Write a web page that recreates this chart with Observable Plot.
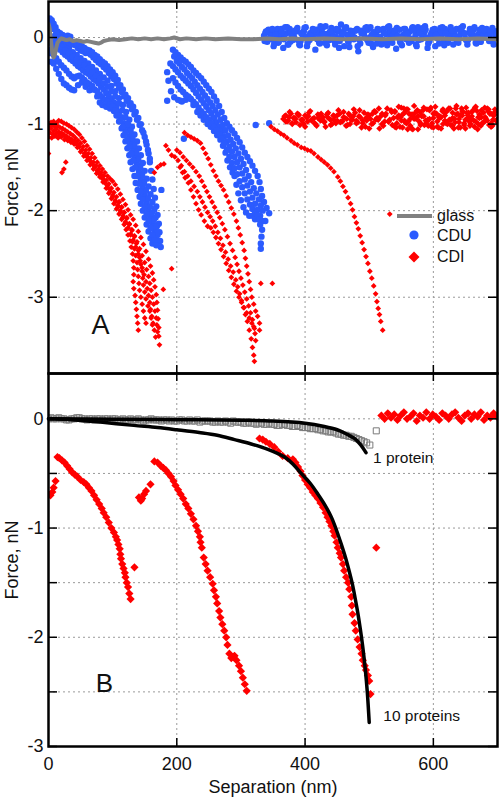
<!DOCTYPE html>
<html><head><meta charset="utf-8">
<script src="https://cdn.jsdelivr.net/npm/d3@7"></script>
<script src="https://cdn.jsdelivr.net/npm/@observablehq/plot@0.6"></script>
<style>
body{margin:0;background:#fff;}
#wrap{position:relative;width:500px;height:798px;font-family:"Liberation Sans",Arial,sans-serif;}
#top,#bot,#legend{position:absolute;left:0;}
#top{top:0;} #bot{top:372px;} #legend{top:0;pointer-events:none;}
</style></head><body>
<div id="wrap"><div id="top"></div><div id="bot"></div>
<svg id="legend" width="500" height="300" font-family="Liberation Sans, Arial, sans-serif" font-size="16">
<line x1="397" x2="432" y1="216" y2="216" stroke="#808080" stroke-width="4"/>
<circle cx="414" cy="235" r="4.6" fill="#2b5bff"/>
<path d="M414,251.5L419.5,257L414,262.5L408.5,257Z" fill="#ff0000"/>
<text x="437" y="221" fill="#111">glass</text>
<text x="437" y="241" fill="#111">CDU</text>
<text x="437" y="262" fill="#111">CDI</text>
</svg></div>
<script>
// ---------- ticks ----------
const xTicks = [0, 200, 400, 600];
const xGrid = [200, 400, 600];
const topYTicks = [0, -1, -2, -3];
const botYLabels = [0, -1, -2, -3];
const botYGrid = [0, -0.5, -1, -1.5, -2, -2.5];
const botYTicks = [0, -0.5, -1, -1.5, -2, -2.5, -3];

// ---------- panel A : glass ----------
const glass = [[0,0.16],[2,0.1],[4,-0.05],[6,-0.18],[8,-0.23],[10,-0.2],[12,-0.12],[14,-0.06],[17,-0.03],[20,-0.01],[24,-0.02],[28,-0.03],[33,-0.02],[38,-0.04],[44,-0.03],[50,-0.04],[55,-0.05],[60,-0.04],[66,-0.05],[72,-0.06],[78,-0.07],[82,-0.06],[86,-0.04],[92,-0.03],[100,-0.02],[110,-0.03],[120,-0.02],[130,-0.01],[140,-0.02],[150,-0.01],[160,-0.02],[170,-0.01],[180,-0.02],[190,-0.01],[196,0.0],[205,-0.02],[215,-0.01],[230,-0.02],[245,-0.01],[260,-0.02],[280,-0.01],[300,-0.02],[320,-0.02],[340,-0.01],[360,-0.02],[380,-0.01],[400,-0.02],[430,-0.01],[460,-0.02],[490,-0.01],[520,-0.02],[550,-0.01],[580,-0.02],[610,-0.01],[640,-0.02],[670,-0.01],[700,-0.02]];

// ---------- panel A : CDU (blue) ----------
const cdu1a = [[2,0.22],[5,0.2],[8,0.16],[11,0.12],[14,0.07],[18,0.05],[22,0.03],[26,0.01],[30,0.02],[34,0.01],[38,-0.05],[42,-0.09],[46,-0.12],[50,-0.15],[54,-0.16],[58,-0.18],[62,-0.18],[66,-0.2],[70,-0.23],[74,-0.26],[78,-0.29],[82,-0.31],[86,-0.34],[90,-0.37],[94,-0.41],[98,-0.45],[102,-0.48],[106,-0.53],[110,-0.58],[114,-0.63],[118,-0.68],[122,-0.73],[126,-0.78],[130,-0.83],[134,-0.89],[138,-0.95],[142,-1.01],[146,-1.07],[150,-1.15],[153,-1.24],[156,-1.34],[158,-1.44],[160,-1.54],[162,-1.64],[164,-1.75],[166,-1.85],[168,-1.95],[170,-2.05],[172,-2.15],[173,-2.25],[174,-2.35],[175,-2.42]];
const cdu1b = [[0,0.05],[3,-0.02],[6,-0.08],[10,-0.12],[14,-0.1],[18,-0.14],[22,-0.17],[26,-0.2],[30,-0.22],[34,-0.25],[38,-0.27],[42,-0.3],[46,-0.33],[50,-0.35],[54,-0.38],[58,-0.4],[62,-0.42],[66,-0.45],[70,-0.48],[74,-0.5],[78,-0.53],[82,-0.57],[86,-0.6],[90,-0.64],[94,-0.68],[98,-0.71],[102,-0.75],[106,-0.8],[110,-0.86],[114,-0.92],[118,-0.99],[122,-1.06],[126,-1.14],[129,-1.22],[132,-1.3],[135,-1.38],[138,-1.46],[141,-1.55],[144,-1.64],[147,-1.73],[150,-1.82],[153,-1.91],[156,-2.0],[159,-2.08],[162,-2.15],[165,-2.22],[168,-2.28],[171,-2.35]];
const cdu1c = [[2,-0.18],[4,-0.28],[8,-0.3],[12,-0.36],[16,-0.42],[20,-0.48],[24,-0.53],[28,-0.55],[32,-0.58],[36,-0.6],[40,-0.61],[46,-0.55],[52,-0.52],[58,-0.57],[64,-0.61],[70,-0.6],[76,-0.68],[80,-0.75],[84,-0.78],[90,-0.8],[96,-0.82],[102,-0.85],[106,-0.9],[110,-0.97],[114,-1.05],[117,-1.13],[120,-1.2],[123,-1.28],[126,-1.36],[128,-1.44],[131,-1.52],[134,-1.6],[136,-1.68],[139,-1.76],[142,-1.84],[144,-1.92],[147,-2.0],[150,-2.08],[153,-2.16],[156,-2.24],[159,-2.32],[162,-2.38]];
const cdu1d = [[6,0.1],[10,0.02],[14,-0.02],[20,-0.06],[26,-0.1],[32,-0.12],[38,-0.17],[44,-0.2],[50,-0.24],[56,-0.27],[62,-0.3],[68,-0.34],[74,-0.38],[80,-0.42],[86,-0.46],[92,-0.5],[98,-0.56],[104,-0.62],[110,-0.7],[116,-0.78],[121,-0.86],[126,-0.95],[130,-1.03],[134,-1.12],[138,-1.2],[141,-1.28],[144,-1.36],[147,-1.45],[150,-1.54],[153,-1.63],[156,-1.72],[159,-1.81],[162,-1.9],[165,-1.99],[167,-2.08],[169,-2.18],[170,-2.28],[176,-1.76]];
const cdu1e = [[4,0.18],[8,0.1],[12,0.05],[16,0.0],[20,-0.02],[24,-0.04],[28,-0.05],[32,-0.06],[36,-0.08],[40,-0.06],[44,-0.07],[48,-0.09],[52,-0.1],[56,-0.12],[60,-0.14],[64,-0.15],[68,-0.17],[72,-0.2],[76,-0.22],[80,-0.25],[84,-0.28],[88,-0.3],[92,-0.33],[96,-0.37],[100,-0.4],[104,-0.44],[108,-0.49],[112,-0.55],[116,-0.6],[120,-0.66],[124,-0.7],[128,-0.76],[132,-0.8],[136,-0.86],[140,-0.93],[144,-1.0],[148,-1.1],[152,-1.2],[155,-1.3],[158,-1.4]];
const cdu1f = [[8,-0.05],[14,-0.08],[20,-0.1],[26,-0.15],[32,-0.18],[38,-0.22],[44,-0.25],[50,-0.29],[56,-0.32],[62,-0.36],[68,-0.4],[74,-0.44],[80,-0.48],[86,-0.53],[92,-0.57],[98,-0.62],[104,-0.68],[110,-0.76],[115,-0.84],[120,-0.92],[124,-1.0],[128,-1.08],[131,-1.17],[134,-1.25],[137,-1.33],[140,-1.41],[143,-1.5],[146,-1.59],[149,-1.68],[152,-1.77],[155,-1.86],[158,-1.95],[161,-2.03],[164,-2.11],[167,-2.18],[170,-2.25]];
const cdu1g = [[4,-0.14],[8,-0.2],[12,-0.24],[16,-0.28],[20,-0.32],[24,-0.35],[28,-0.38],[32,-0.42],[36,-0.45],[40,-0.47],[44,-0.45],[48,-0.44],[52,-0.46],[56,-0.49],[60,-0.52],[64,-0.54],[68,-0.56],[72,-0.6],[76,-0.62],[80,-0.66],[84,-0.69],[88,-0.72],[92,-0.74],[96,-0.77],[100,-0.8],[104,-0.84],[108,-0.9],[112,-0.96],[116,-1.03],[120,-1.1],[123,-1.18],[126,-1.26],[129,-1.34],[132,-1.42],[135,-1.5],[138,-1.6],[141,-1.69],[144,-1.78],[147,-1.87],[150,-1.96],[153,-2.04],[156,-2.12],[159,-2.2],[162,-2.28],[165,-2.34],[168,-2.4]];
const cdu2a = [[194,-0.14],[198,-0.17],[202,-0.2],[206,-0.23],[210,-0.26],[214,-0.28],[218,-0.31],[222,-0.34],[226,-0.38],[230,-0.41],[234,-0.44],[238,-0.47],[242,-0.51],[246,-0.55],[250,-0.59],[254,-0.63],[258,-0.68],[262,-0.73],[266,-0.79],[270,-0.86],[274,-0.93],[278,-0.99],[282,-1.03],[286,-1.07],[290,-1.11],[294,-1.16],[298,-1.21],[302,-1.27],[306,-1.33],[310,-1.38],[314,-1.43],[318,-1.48],[322,-1.54],[326,-1.6],[329,-1.67],[331,-1.75],[333,-1.83],[336,-1.9],[340,-1.97],[344,-2.03]];
const cdu2b = [[190,-0.3],[194,-0.33],[198,-0.37],[202,-0.4],[206,-0.44],[210,-0.47],[214,-0.5],[218,-0.53],[222,-0.56],[226,-0.6],[230,-0.64],[234,-0.68],[238,-0.72],[242,-0.76],[246,-0.8],[250,-0.84],[254,-0.88],[258,-0.93],[262,-0.98],[266,-1.03],[270,-1.08],[274,-1.14],[278,-1.2],[282,-1.26],[286,-1.32],[290,-1.38],[294,-1.44],[298,-1.5],[302,-1.57],[306,-1.64],[310,-1.71],[314,-1.78],[318,-1.85],[322,-1.92],[326,-1.99],[330,-2.06],[333,-2.12]];
const cdu2c = [[191,-0.62],[196,-0.69],[202,-0.72],[208,-0.74],[214,-0.72],[220,-0.7],[226,-0.78],[232,-0.86],[237,-0.9],[242,-0.95],[248,-1.0],[253,-1.03],[258,-1.08],[263,-1.13],[268,-1.18],[272,-1.25],[276,-1.33],[279,-1.42],[283,-1.5],[287,-1.56],[290,-1.6],[293,-1.7],[296,-1.8],[300,-1.88],[304,-1.96],[308,-2.02],[313,-2.06],[318,-2.06],[322,-2.1],[327,-2.1],[330,-2.16],[333,-2.22],[332,-2.3],[331,-2.38],[331,-2.44]];
const cdu2d = [[196,-0.22],[200,-0.27],[204,-0.3],[208,-0.34],[212,-0.37],[216,-0.41],[220,-0.44],[224,-0.47],[228,-0.51],[232,-0.55],[236,-0.59],[240,-0.63],[244,-0.67],[248,-0.71],[252,-0.75],[256,-0.79],[260,-0.84],[264,-0.89],[268,-0.95],[272,-1.01],[276,-1.07],[280,-1.13],[284,-1.18],[288,-1.23],[292,-1.28],[296,-1.34],[300,-1.4],[304,-1.46],[308,-1.53],[312,-1.6],[316,-1.67],[320,-1.74],[324,-1.8],[328,-1.87],[331,-1.94],[334,-2.0]];
const cdu2e = [[194,-0.47],[198,-0.52],[202,-0.56],[206,-0.6],[210,-0.63],[214,-0.66],[218,-0.68],[222,-0.71],[226,-0.74],[230,-0.77],[234,-0.81],[238,-0.85],[242,-0.88],[246,-0.92],[250,-0.95],[254,-0.99],[258,-1.03],[262,-1.07],[266,-1.12],[270,-1.17],[274,-1.22],[278,-1.3],[282,-1.38],[286,-1.45],[290,-1.51],[294,-1.58],[298,-1.66],[302,-1.73],[306,-1.8],[310,-1.87],[314,-1.93],[318,-1.98],[322,-2.02],[326,-2.05],[329,-2.1]];
const cduStray = [[185,-0.4],[187,-0.5],[185,-0.73],[206,-0.73],[211,-1.17],[323,-1.01],[344,-0.99],[338,-2.12]];
const cduBaseA_y = [0.02,-0.05,0.06,-0.1,0.08,0.0,-0.12,0.05,0.1,-0.03,0.07,-0.08,0.03,0.12,-0.02,0.06,-0.14,0.04,0.09,-0.06,0.02,0.11,-0.04,0.07,0.15,-0.1,0.03,0.08,-0.02,0.1,-0.07,0.05,0.12,0.0,-0.11,0.06,0.09,-0.03,0.04,0.13,-0.06,0.07,0.01,-0.09,0.1,0.05,-0.04,0.08,0.12,-0.02,0.06,-0.12,0.03,0.09,0.0,0.11,-0.05,0.07,0.04,-0.08,0.1,0.02,0.13,-0.03,0.06,0.09,-0.06,0.04,0.11,0.0,0.08,-0.04,0.07,0.05];
const cduBaseB_y = [0.05,0.09,-0.02,0.04,-0.06,0.1,0.03,-0.08,0.06,0.0,0.11,-0.04,0.07,-0.1,0.05,0.02,0.09,-0.07,0.12,0.04,-0.03,0.08,0.01,-0.12,0.06,0.1,-0.05,0.03,0.08,-0.16,0.05,0.0,0.09,-0.07,0.04,0.1,-0.02,0.06,-0.09,0.02,0.08,0.11,-0.05,0.03,-0.02,0.07,0.12,-0.08,0.05,0.01,0.09,-0.04,0.06,-0.1,0.08,0.03,0.1,-0.06,0.02,0.07,-0.03,0.11,0.05,-0.08,0.04,0.09,0.0,-0.05,0.06,0.1,0.02,-0.03,0.07];
const cduBaseC_y = [-0.04,0.08,0.02,-0.07,0.1,0.05,-0.02,0.12,-0.05,0.04,0.09,-0.09,0.06,0.01,-0.03,0.1,0.07,-0.06,0.03,0.13,-0.01,0.05,-0.08,0.09,0.02,0.11,-0.04,0.06,0.0,-0.1,0.08,0.04,-0.03,0.12,0.06,-0.07,0.01,0.1,-0.05,0.07,0.03,-0.13,0.09,0.0,0.05,-0.06,0.11,0.02,-0.03,0.08,0.13,-0.07,0.04,0.1,-0.01,0.06,-0.09,0.03,0.12,0.0,-0.05,0.08,0.05,-0.02,0.1,0.03,-0.07,0.09,0.01,0.06,-0.04,0.11,0.03];
const cduBaseD_y = [0.07,-0.01,0.1,0.03,-0.05,0.06,0.12,-0.08,0.01,0.08,-0.03,0.05,0.11,-0.06,0.02,0.09,-0.02,0.13,0.04,-0.09,0.07,0.0,0.1,-0.04,0.05,0.12,-0.11,0.02,0.08,-0.02,0.06,0.11,-0.06,0.03,0.0,0.09,-0.08,0.05,0.12,-0.03,0.07,0.02,-0.06,0.1,0.04,-0.01,0.08,-0.1,0.06,0.11,0.0,-0.04,0.09,0.03,-0.07,0.12,0.05,-0.02,0.08,0.01,-0.06,0.1,0.04,-0.03,0.07,0.12,0.0,-0.05,0.09,0.02,0.06,-0.08,0.04];

// ---------- panel A : CDI (red) ----------
const cdi1a = [[0,-1.0],[4,-0.98],[8,-0.97],[12,-0.99],[16,-0.96],[20,-0.97],[24,-0.99],[28,-1.0],[32,-1.02],[36,-1.04],[40,-1.06],[44,-1.09],[48,-1.12],[52,-1.16],[56,-1.2],[60,-1.25],[64,-1.29],[68,-1.34],[72,-1.39],[76,-1.44],[80,-1.48],[84,-1.52],[88,-1.56],[92,-1.6],[96,-1.63],[100,-1.66],[104,-1.7],[108,-1.75],[112,-1.81],[116,-1.87],[120,-1.93],[124,-1.99],[128,-2.05],[132,-2.1],[136,-2.17],[140,-2.24],[144,-2.31],[148,-2.39],[152,-2.47],[156,-2.56],[159,-2.64],[162,-2.72],[164,-2.8],[166,-2.88],[168,-2.97],[169,-3.06],[170,-3.15],[171,-3.25],[172,-3.35],[172,-3.45],[173,-3.55]];
const cdi1b = [[0,-1.06],[4,-1.05],[8,-1.08],[12,-1.06],[16,-1.09],[20,-1.1],[24,-1.12],[28,-1.14],[32,-1.16],[36,-1.18],[40,-1.2],[44,-1.23],[48,-1.26],[52,-1.3],[56,-1.34],[60,-1.38],[64,-1.42],[68,-1.46],[72,-1.5],[76,-1.54],[80,-1.58],[84,-1.63],[88,-1.68],[92,-1.73],[96,-1.78],[100,-1.84],[104,-1.9],[108,-1.96],[112,-2.02],[116,-2.08],[120,-2.14],[124,-2.2],[128,-2.27],[132,-2.34],[136,-2.42],[140,-2.5],[143,-2.58],[146,-2.66],[149,-2.74],[152,-2.82],[154,-2.9],[156,-2.98],[158,-3.06],[159,-3.14],[161,-3.22],[163,-3.3],[165,-3.38],[167,-3.46]];
const cdi1c = [[0,-1.15],[5,-1.16],[10,-1.14],[15,-1.16],[20,-1.15],[25,-1.18],[30,-1.19],[35,-1.21],[40,-1.23],[45,-1.27],[50,-1.32],[55,-1.37],[60,-1.42],[65,-1.47],[70,-1.52],[75,-1.57],[80,-1.61],[85,-1.67],[90,-1.74],[94,-1.8],[98,-1.86],[102,-1.92],[106,-1.98],[110,-2.04],[114,-2.1],[118,-2.16],[121,-2.22],[124,-2.28],[127,-2.35],[129,-2.42],[131,-2.5],[132,-2.58],[133,-2.66],[133,-2.74],[132,-2.82],[133,-2.9],[135,-2.98],[136,-3.06],[137,-3.14],[138,-3.22],[139,-3.3],[140,-3.38]];
const cdi1d = [[110,-1.9],[114,-1.96],[118,-2.02],[122,-2.09],[126,-2.16],[130,-2.23],[134,-2.3],[137,-2.38],[140,-2.46],[142,-2.54],[144,-2.62],[146,-2.7],[147,-2.78],[148,-2.86],[150,-2.94],[152,-3.02],[155,-3.1],[158,-3.16],[160,-3.24],[162,-3.32]];
const cdi1e = [[2,-1.03],[6,-1.01],[10,-1.03],[14,-1.02],[18,-1.04],[22,-1.05],[26,-1.07],[30,-1.09],[34,-1.11],[38,-1.13],[42,-1.16],[46,-1.19],[50,-1.22],[54,-1.26],[58,-1.3],[62,-1.34],[66,-1.39],[70,-1.44],[74,-1.48],[78,-1.52],[82,-1.56],[86,-1.6],[90,-1.65],[94,-1.69],[98,-1.74],[102,-1.79],[106,-1.84],[110,-1.9],[114,-1.96],[118,-2.02],[122,-2.08],[126,-2.15],[130,-2.22],[134,-2.29],[138,-2.36],[142,-2.44],[146,-2.52],[150,-2.6],[153,-2.68],[156,-2.76],[158,-2.84],[160,-2.92],[162,-3.0],[164,-3.08],[166,-3.16],[168,-3.24],[169,-3.32],[170,-3.4]];
const cdi1f = [[2,-1.1],[7,-1.12],[12,-1.11],[17,-1.13],[22,-1.13],[27,-1.15],[32,-1.18],[37,-1.2],[42,-1.22],[47,-1.26],[52,-1.3],[57,-1.34],[62,-1.39],[67,-1.44],[72,-1.49],[77,-1.54],[82,-1.59],[87,-1.65],[92,-1.71],[96,-1.76],[100,-1.82],[104,-1.88],[108,-1.94],[112,-2.0],[116,-2.06],[120,-2.13],[124,-2.2],[128,-2.28],[131,-2.36],[134,-2.44],[136,-2.52],[138,-2.6],[139,-2.68],[140,-2.76],[141,-2.84],[142,-2.92],[144,-3.0],[146,-3.08],[148,-3.16],[150,-3.24],[152,-3.3]];
const cdi1Stray = [[0,-1.34],[27,-1.44],[21,-1.56],[24,-1.52],[165,-1.56],[170,-1.5],[175,-1.47],[180,-1.46],[192,-2.67],[179,-2.91]];
const cdi2a = [[212,-1.1],[217,-1.13],[222,-1.15],[227,-1.17],[232,-1.19],[237,-1.22],[241,-1.28],[245,-1.34],[249,-1.4],[253,-1.47],[257,-1.54],[261,-1.6],[265,-1.66],[269,-1.71],[273,-1.76],[277,-1.83],[281,-1.9],[285,-1.97],[289,-2.04],[293,-2.12],[296,-2.2],[299,-2.28],[302,-2.37],[305,-2.46],[307,-2.55],[309,-2.64],[311,-2.73],[313,-2.82],[315,-2.91],[317,-3.0],[320,-3.08],[323,-3.16],[326,-3.22],[329,-3.3],[329,-3.38]];
const cdi2b = [[183,-1.25],[187,-1.3],[192,-1.36],[197,-1.38],[202,-1.42],[207,-1.48],[212,-1.55],[217,-1.6],[222,-1.66],[227,-1.72],[232,-1.78],[236,-1.84],[240,-1.9],[244,-1.96],[248,-2.02],[252,-2.07],[256,-2.12],[260,-2.18],[264,-2.25],[268,-2.32],[272,-2.4],[276,-2.48],[280,-2.56],[284,-2.64],[288,-2.71],[292,-2.8],[295,-2.88],[298,-2.96],[301,-3.04],[304,-3.12],[307,-3.2],[310,-3.28],[313,-3.38],[316,-3.48],[318,-3.58],[320,-3.67],[321,-3.74]];
const cdi2c = [[205,-1.5],[209,-1.56],[213,-1.62],[218,-1.68],[222,-1.76],[226,-1.84],[230,-1.92],[234,-1.99],[238,-2.05],[243,-2.12],[248,-2.18],[253,-2.2],[257,-2.25],[261,-2.31],[265,-2.38],[269,-2.45],[273,-2.53],[277,-2.61],[281,-2.69],[285,-2.77],[289,-2.85],[293,-2.93],[297,-3.0],[301,-3.06],[305,-3.12],[309,-3.18],[313,-3.24],[317,-3.3],[321,-3.36],[331,-2.84],[349,-2.84]];
const cdi2d = [[200,-1.3],[205,-1.33],[210,-1.38],[215,-1.42],[220,-1.46],[225,-1.5],[230,-1.55],[235,-1.6],[239,-1.66],[243,-1.72],[247,-1.78],[251,-1.84],[255,-1.9],[259,-1.96],[263,-2.02],[267,-2.08],[271,-2.15],[275,-2.22],[279,-2.3],[283,-2.38],[287,-2.46],[291,-2.54],[294,-2.62],[297,-2.7],[300,-2.78],[303,-2.86],[306,-2.94],[309,-3.02],[312,-3.1],[315,-3.18],[318,-3.26],[320,-3.34],[322,-3.42],[323,-3.5]];
const cdi3 = [[347,-1.03],[352,-1.06],[357,-1.08],[362,-1.11],[367,-1.13],[372,-1.16],[378,-1.19],[383,-1.22],[388,-1.24],[394,-1.27],[399,-1.28],[404,-1.3],[409,-1.31],[414,-1.34],[420,-1.38],[425,-1.41],[430,-1.44],[435,-1.47],[440,-1.51],[445,-1.55],[451,-1.61],[455,-1.66],[459,-1.72],[463,-1.78],[467,-1.85],[471,-1.92],[474,-1.99],[477,-2.07],[480,-2.14],[483,-2.21],[486,-2.29],[489,-2.37],[492,-2.45],[495,-2.53],[498,-2.61],[501,-2.7],[504,-2.78],[507,-2.87],[510,-2.96],[512,-3.05],[514,-3.13],[516,-3.2],[518,-3.28],[521,-3.38],[532,-2.04]];
const cdiBaseA_y = [-0.94,-0.9,-0.96,-0.88,-0.93,-0.98,-0.9,-0.95,-1.0,-0.92,-0.87,-0.96,-0.93,-1.02,-0.9,-0.95,-0.98,-0.89,-0.94,-1.0,-0.91,-0.96,-0.88,-0.97,-0.93,-1.01,-0.9,-0.95,-0.87,-0.98,-0.92,-0.96,-1.03,-0.89,-0.94,-0.99,-0.86,-0.95,-0.91,-1.02,-0.88,-0.97,-0.84,-0.93,-1.04,-0.9,-0.96,-0.82,-0.99,-0.88,-1.05,-0.92,-0.85,-0.97,-0.9,-1.01,-0.83,-0.94,-0.99,-0.87,-1.03,-0.91,-0.85,-0.96,-1.0,-0.82,-0.93,-0.98,-0.88,-1.04,-0.86,-0.95,-0.9,-1.0,-0.84,-0.97,-0.92,-1.02,-0.87,-0.94,-0.83,-0.99,-0.9,-0.96];
const cdiBaseB_y = [-0.97,-0.92,-1.0,-0.94,-0.89,-0.96,-1.03,-0.91,-0.95,-0.99,-0.93,-0.88,-0.97,-0.92,-1.01,-0.95,-0.9,-0.98,-0.86,-0.94,-1.0,-0.91,-0.96,-0.84,-0.99,-0.93,-1.05,-0.88,-0.95,-0.82,-1.0,-0.9,-0.97,-0.86,-1.03,-0.92,-0.81,-0.96,-1.06,-0.89,-0.94,-0.84,-1.01,-0.91,-0.97,-0.83,-1.04,-0.88,-0.93,-1.0,-0.86,-0.95,-1.02,-0.82,-0.98,-0.9,-1.05,-0.87,-0.94,-0.81,-1.0,-0.92,-0.97,-0.85,-1.03,-0.89,-0.96];
const cdiBaseC_y = [-0.91,-0.97,-0.86,-0.99,-0.93,-0.88,-1.01,-0.95,-0.9,-0.97,-0.85,-0.94,-1.0,-0.89,-0.96,-0.92,-1.03,-0.87,-0.95,-0.9,-0.99,-0.84,-0.97,-0.92,-1.02,-0.88,-0.95,-0.83,-0.99,-0.91,-1.04,-0.87,-0.96,-0.9,-1.0,-0.85,-0.93,-1.05,-0.88,-0.97,-0.82,-0.95,-1.01,-0.86,-0.92,-1.03,-0.89,-0.98,-0.83,-0.94,-1.06,-0.87,-0.91,-0.99,-0.84,-0.96,-1.02,-0.81,-0.93,-0.88,-1.04,-0.92,-0.86,-0.99,-0.83,-0.95,-1.05,-0.89,-0.94,-0.82,-1.01,-0.87,-0.97,-0.91,-1.03,-0.85,-0.93,-0.99,-0.81,-0.96,-0.88,-1.02,-0.86,-0.94];
const cdiBaseD_y = [-0.85,-0.99,-0.8,-0.92,-1.04,-0.87,-0.83,-0.97,-1.02,-0.89,-0.79,-0.94,-1.06,-0.86,-0.91,-0.81,-1.0,-0.95,-0.84,-1.03,-0.88,-0.8,-0.97,-0.92,-1.05,-0.83,-0.9,-0.98,-0.82,-1.01,-0.87,-0.94,-0.79,-1.04,-0.9,-0.85,-0.99,-0.81,-0.93,-1.02,-0.86,-0.96,-0.8,-1.06,-0.89,-0.84,-0.98,-0.92,-0.82,-1.01,-0.88,-0.95,-0.83,-0.97];

// ---------- panel B ----------
const bCdi1 = [[3,-0.7],[6,-0.67],[8,-0.63],[11,-0.57],[14,-0.35],[17,-0.36],[21,-0.38],[25,-0.4],[29,-0.43],[33,-0.46],[37,-0.49],[41,-0.51],[45,-0.53],[50,-0.56],[55,-0.58],[59,-0.6],[63,-0.63],[67,-0.66],[71,-0.7],[75,-0.74],[79,-0.78],[83,-0.82],[86,-0.86],[90,-0.9],[94,-0.95],[98,-1.0],[102,-1.04],[105,-1.08],[107,-1.11],[109,-1.15],[111,-1.19],[112,-1.24],[113,-1.28],[115,-1.33],[117,-1.37],[119,-1.41],[120,-1.45],[122,-1.5],[124,-1.54],[126,-1.6],[128,-1.65],[134,-1.36]];
const bCdi2 = [[141,-0.72],[144,-0.75],[146,-0.73],[149,-0.69],[152,-0.66],[159,-0.6],[165,-0.39],[170,-0.4],[175,-0.43],[179,-0.45],[183,-0.47],[187,-0.5],[191,-0.53],[195,-0.57],[198,-0.61],[202,-0.65],[206,-0.69],[210,-0.73],[214,-0.78],[218,-0.82],[222,-0.87],[226,-0.92],[230,-0.98],[233,-1.03],[236,-1.08],[237,-1.13],[239,-1.18],[242,-1.27],[245,-1.33],[248,-1.39],[252,-1.45],[256,-1.51],[258,-1.57],[261,-1.63],[263,-1.69],[266,-1.76],[268,-1.82],[271,-1.88],[274,-1.94],[277,-2.0],[279,-2.07],[282,-2.15],[285,-2.19],[288,-2.18],[290,-2.17],[293,-2.21],[297,-2.26],[300,-2.31],[303,-2.37],[306,-2.43],[309,-2.49]];
const bCdi3 = [[329,-0.18],[334,-0.19],[339,-0.21],[345,-0.23],[352,-0.26],[358,-0.3],[365,-0.34],[373,-0.36],[381,-0.37],[385,-0.4],[389,-0.44],[393,-0.48],[396,-0.52],[400,-0.56],[404,-0.6],[408,-0.63],[412,-0.67],[416,-0.7],[420,-0.73],[424,-0.77],[428,-0.81],[432,-0.86],[435,-0.9],[438,-0.94],[441,-0.98],[444,-1.03],[446,-1.07],[449,-1.13],[451,-1.18],[454,-1.23],[456,-1.27],[459,-1.33],[461,-1.39],[464,-1.45],[467,-1.5],[469,-1.56],[472,-1.63],[473,-1.71],[474,-1.79],[477,-1.87],[479,-1.94],[482,-2.02],[485,-2.09],[488,-2.15],[490,-2.21],[493,-2.26],[495,-2.3],[498,-2.35],[500,-2.4],[502,-2.52],[511,-1.18]];
const bCdiBase_y = [0.03,0.0,0.05,0.01,0.04,-0.01,0.03,0.06,0.0,0.02,0.05,-0.02,0.03,0.01,0.06,0.0,0.04,0.02,-0.01,0.05,0.03,0.0,0.04,0.06,0.01,-0.02,0.03,0.05,0.0,0.04,0.02,0.06,-0.01,0.03,0.01,0.05,0.02];
const oneProteinA_y = [0.0,0.0,0.01,0.0,-0.01,0.0,0.01,0.0,0.0,-0.01,0.0,0.0,-0.01,0.0,-0.01,-0.01,0.0,-0.01,-0.01,-0.01,0.0,-0.01,-0.02,-0.01,-0.01,-0.02,-0.01,-0.02,-0.02,-0.01,-0.02,-0.02,-0.03,-0.02,-0.03,-0.03,-0.02,-0.03,-0.04,-0.03,-0.04,-0.04,-0.05,-0.04,-0.05,-0.06,-0.05,-0.06,-0.07,-0.07,-0.08,-0.09,-0.09,-0.1,-0.11,-0.12,-0.13,-0.14,-0.15,-0.16,-0.18,-0.2,-0.22];
const oneProteinB_y = [0.01,0.0,0.0,-0.01,0.0,0.01,0.0,-0.01,0.0,0.0,-0.01,0.0,0.0,-0.01,0.0,-0.01,-0.01,0.0,-0.02,-0.01,-0.01,-0.01,-0.01,-0.02,-0.02,-0.01,-0.02,-0.01,-0.02,-0.03,-0.02,-0.02,-0.03,-0.03,-0.02,-0.04,-0.03,-0.03,-0.04,-0.04,-0.05,-0.04,-0.05,-0.05,-0.06,-0.05,-0.06,-0.07,-0.06,-0.08,-0.08,-0.09,-0.1,-0.11,-0.12,-0.12,-0.14,-0.15,-0.16,-0.17,-0.19,-0.21];
const oneProteinEnd = [[501,-0.24],[511,-0.11]];
const fit1 = [[0,0],[100,-0.003],[200,-0.008],[300,-0.013],[350,-0.02],[400,-0.04],[430,-0.07],[450,-0.1],[465,-0.14],[477,-0.18],[487,-0.24],[495,-0.31]];
const fit10 = [[0,0],[40,-0.01],[81,-0.03],[133,-0.06],[170,-0.08],[200,-0.1],[235,-0.125],[263,-0.15],[290,-0.19],[316,-0.23],[342,-0.28],[368,-0.35],[382,-0.42],[394,-0.5],[408,-0.59],[420,-0.69],[431,-0.79],[441,-0.9],[449,-1.02],[456,-1.14],[463,-1.27],[469,-1.4],[474,-1.52],[478,-1.64],[482,-1.77],[486,-1.92],[490,-2.09],[494,-2.3],[497,-2.5],[500,-2.78]];
const annotations = [{x:506, y:-0.36, t:"1 protein"}, {x:522, y:-2.72, t:"10 proteins"}];

// regular sampling along separation for the noise bands
const sample = (ys, x0, dx) => ys.map((y, i) => [x0 + dx * i, y]);
const cduBase = [sample(cduBaseA_y, 336, 5), sample(cduBaseB_y, 338, 5), sample(cduBaseC_y, 337, 5), sample(cduBaseD_y, 339, 5)].flat();
const cdiBase = [sample(cdiBaseA_y, 366, 4), sample(cdiBaseB_y, 370, 5), sample(cdiBaseC_y, 368, 4), sample(cdiBaseD_y, 540, 3)].flat();
const bCdiBase = sample(bCdiBase_y, 519, 5);
const oneProtein = [sample(oneProteinA_y, 0, 8), sample(oneProteinB_y, 4, 8), oneProteinEnd].flat();

const BLUE = "#2b5bff", RED = "#ff0000", GRAY = "#808080";
const W = 500, ML = 48, MR = 3, FW = W - ML - MR;
const style = {fontFamily: "Liberation Sans, Arial, sans-serif", fontSize: "18px", background: "transparent", color: "#111", overflow: "visible"};
const gridStyle = {stroke: "#9a9a9a", strokeOpacity: 1, strokeDasharray: "2,3", strokeWidth: 1};
const X = d => d[0], Y = d => d[1];
const fmt = d => String(d);

function frameMarks(yTicks, FH) {
  return [
    Plot.tickY(yTicks, {y: d => d, insetRight: FW - 9, stroke: "black", strokeWidth: 1.5}),
    Plot.tickY(yTicks, {y: d => d, insetLeft: FW - 9, stroke: "black", strokeWidth: 1.5}),
    Plot.tickX(xGrid, {x: d => d, insetBottom: FH - 8, stroke: "black", strokeWidth: 1.5}),
    Plot.tickX(xGrid, {x: d => d, insetTop: FH - 8, stroke: "black", strokeWidth: 1.5}),
    Plot.frame({stroke: "black", strokeWidth: 2.5})
  ];
}
const label = (t, opts) => Plot.text([t], {text: d => d, lineAnchor: "middle", textAnchor: "middle", fill: "#111", ...opts});

// ---------- top panel ----------
const cduAll = [cdu1a, cdu1b, cdu1c, cdu1d, cdu1e, cdu1f, cdu1g, cdu2a, cdu2b, cdu2c, cdu2d, cdu2e, cduStray, cduBase].flat();
const cdiTraces = [cdi1a, cdi1b, cdi1c, cdi1d, cdi1e, cdi1f, cdi1Stray, cdi2a, cdi2b, cdi2c, cdi2d, cdi3].flat();
const topH = 374;
const topPlot = Plot.plot({
  width: W, height: topH, marginTop: 1, marginBottom: 1, marginLeft: ML, marginRight: MR,
  style,
  x: {domain: [0, 700], axis: null},
  y: {domain: [-3.881, 0.416], axis: null},
  marks: [
    Plot.gridX(xGrid, gridStyle),
    Plot.gridY(topYTicks, gridStyle),
    Plot.dot(cduAll, {x: X, y: Y, r: 3.2, fill: BLUE, clip: true}),
    Plot.dot(cdiTraces, {x: X, y: Y, r: 2.6, symbol: "diamond2", fill: RED, clip: true}),
    Plot.dot(cdiBase, {x: X, y: Y, r: 2.9, symbol: "diamond2", fill: RED, clip: true}),
    Plot.line(glass, {x: X, y: Y, stroke: GRAY, strokeWidth: 4, clip: true}),
    Plot.axisY(topYTicks, {tickSize: 0, tickPadding: 5, tickFormat: fmt, label: null, fill: "#111"}),
    ...frameMarks(topYTicks, topH - 2),
    label("Force, nN", {frameAnchor: "left", dx: -36, rotate: -90, fontSize: 18}),
    label("A", {frameAnchor: "bottom-left", dx: 52, dy: -48, fontSize: 27})
  ]
});
document.getElementById("top").append(topPlot);

// ---------- bottom panel ----------
const botH = 426;
const botPlot = Plot.plot({
  width: W, height: botH, marginTop: 1, marginBottom: 52, marginLeft: ML, marginRight: MR,
  style,
  x: {domain: [0, 700], axis: null},
  y: {domain: [-3, 0.415], axis: null},
  marks: [
    Plot.gridX(xGrid, gridStyle),
    Plot.gridY(botYGrid, gridStyle),
    Plot.dot(oneProtein, {x: X, y: Y, r: 3.4, symbol: "square", fill: "none", stroke: "#7a7a7a", strokeWidth: 1, clip: true}),
    Plot.line(fit1, {x: X, y: Y, stroke: "black", strokeWidth: 3.5, curve: "catmull-rom"}),
    Plot.dot([bCdi1, bCdi2, bCdi3, bCdiBase].flat(), {x: X, y: Y, r: 3.7, symbol: "diamond2", fill: RED, clip: true}),
    Plot.line(fit10, {x: X, y: Y, stroke: "black", strokeWidth: 3.5, curve: "catmull-rom"}),
    Plot.text(annotations, {x: "x", y: "y", text: "t", textAnchor: "start", fontSize: 15.5, fill: "#111"}),
    Plot.axisY(botYLabels, {tickSize: 0, tickPadding: 5, tickFormat: fmt, label: null, fill: "#111"}),
    Plot.axisX(xTicks, {tickSize: 0, tickPadding: 11, tickFormat: fmt, label: null, fill: "#111"}),
    ...frameMarks(botYTicks, botH - 53),
    label("Force, nN", {frameAnchor: "left", dx: -36, rotate: -90, fontSize: 18}),
    label("Separation (nm)", {frameAnchor: "bottom", dy: 41, fontSize: 18}),
    label("B", {frameAnchor: "bottom-left", dx: 56, dy: -63, fontSize: 26})
  ]
});
document.getElementById("bot").append(botPlot);
</script>
</body></html>
